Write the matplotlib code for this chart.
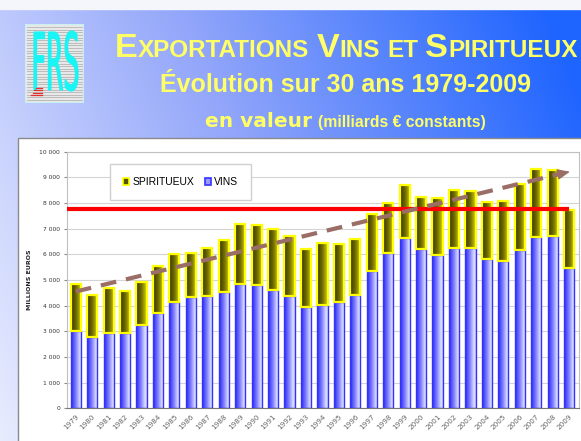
import numpy as np
import matplotlib
matplotlib.use("Agg")
import matplotlib.pyplot as plt
from matplotlib.patches import Rectangle, PathPatch, Patch
from matplotlib.textpath import TextPath
from matplotlib.font_manager import FontProperties
from matplotlib.colors import LinearSegmentedColormap
import matplotlib.transforms as mtransforms

# data (millions of euros, constant)
years = list(range(1979, 2010))
vins = [3030, 2770, 2920, 2935, 3245, 3725, 4155, 4325, 4375, 4545, 4845, 4795,
        4600, 4380, 3935, 4040, 4155, 4420, 5350, 6040, 6650, 6210, 5975, 6235,
        6260, 5820, 5755, 6170, 6690, 6730, 5480]
totals = [4830, 4415, 4675, 4570, 4935, 5560, 6000, 6065, 6260, 6560, 7180, 7145,
          6985, 6715, 6210, 6430, 6405, 6610, 7570, 7990, 8700, 8220, 8195, 8505,
          8480, 8040, 8065, 8750, 9335, 9300, 7730]
spiritueux = [t - v for t, v in zip(totals, vins)]
ref_level = 7760
trend_years = [1979, 2009]
trend_vals = [4550, 9220]

W, H = 581, 441
fig = plt.figure(figsize=(W / 100, H / 100), dpi=100)
renderer = fig.canvas.get_renderer()
px = mtransforms.IdentityTransform()

# background gradient (lavender bottom-left -> blue top-right)
bg = fig.add_axes([0, 0, 1, 1], zorder=-10)
gx, gy = np.meshgrid(np.linspace(0, 1, 300), np.linspace(0, 1, 200))
tt = np.clip(0.8 * gx + 0.25 * (1 - gy), 0, 1)
c0 = np.array([232, 236, 255]) / 255
c1 = np.array([145, 165, 250]) / 255
c2 = np.array([30, 100, 255]) / 255
img = np.where(tt[..., None] < 0.5, c0 + (c1 - c0) * (tt[..., None] / 0.5),
               c1 + (c2 - c1) * ((tt[..., None] - 0.5) / 0.5))
bg.imshow(img, extent=(0, 1, 1, 0), aspect="auto")
bg.set_xlim(0, 1)
bg.set_ylim(1, 0)
bg.axis("off")
bg.add_patch(Rectangle((0, 0), 1, 9 / H, color="#f4f6fc"))
bg.add_patch(Rectangle((18 / W, 138 / H), 1, 1, facecolor="white",
                       edgecolor="#8a8a8a", lw=1))

# logo
lg = fig.add_axes([25 / W, 1 - 103 / H, 59 / W, 79 / H])
lg.set_xlim(0, 59)
lg.set_ylim(0, 79)
lg.axis("off")
lg.add_patch(Rectangle((0, 0), 59, 79, facecolor="#e8e8e8", edgecolor="#c8f0f0", lw=1.5))
for yy in np.arange(3, 77, 2.6):
    lg.plot([2, 57], [yy, yy], color="#b4b4b4", lw=0.6)
tp = TextPath((0, 0), "FRS", size=1, prop=FontProperties(family="DejaVu Sans"))
ext = tp.get_extents()
tr = mtransforms.Affine2D().translate(-ext.x0, -ext.y0).scale(44 / ext.width, 60 / ext.height).translate(9, 12)
lg.add_patch(PathPatch(tr.transform_path(tp), facecolor="#19f5f5", edgecolor="#19f5f5",
                       lw=0.9, zorder=3))
for i in range(4):
    lg.plot([6 + i * 1.5, 17], [8 + i * 2.5, 8 + i * 2.5], color="#e03030", lw=0.9, zorder=4)

# title, small caps built from pieces
yel = "#ffff66"
big, small = 24.6, 17.5
pieces = [("E", big), ("XPORTATIONS", small), (" ", small), ("V", big), ("INS", small),
          (" ", small), ("ET", small), (" ", small), ("S", big), ("PIRITUEUX", small)]
x = 115
for txt, fs in pieces:
    if txt == " ":
        x += fs * 0.42
        continue
    t = fig.text(x, H - 57, txt, transform=px, fontsize=fs, fontweight="bold",
                 family="Liberation Sans", color=yel, va="baseline", ha="left")
    x += t.get_window_extent(renderer).width

fig.text(346, H - 92, "Évolution sur 30 ans 1979-2009", transform=px, fontsize=18,
         fontweight="bold", family="Liberation Sans", color=yel, va="baseline", ha="center")
t1 = fig.text(205, H - 127, "en valeur", transform=px, fontsize=14.5, fontweight="heavy",
              family="DejaVu Sans", color=yel, va="baseline", ha="left")
x = 205 + t1.get_window_extent(renderer).width + 6
fig.text(x, H - 127, "(milliards € constants)", transform=px, fontsize=11.3, fontweight="bold",
         family="Liberation Sans", color=yel, va="baseline", ha="left")

# main chart
ax = fig.add_axes([67 / W, (H - 408.3) / H, (579 - 67) / W, (408.3 - 151.7) / H])
xs = np.arange(len(years))
bw = 0.62

blue_cmap = LinearSegmentedColormap.from_list(
    "b", [(0, (0.15, 0.15, 0.94)), (0.45, (0.5, 0.5, 1.0)), (0.85, (0.88, 0.88, 1.0)), (1, (0.78, 0.78, 1.0))])
yel_cmap = LinearSegmentedColormap.from_list(
    "y", [(0, (0.2, 0.2, 0.0)), (0.5, (0.45, 0.43, 0.0)), (1, (0.85, 0.85, 0.0))])
grad = np.linspace(0, 1, 64)[None, :]

bars_v = ax.bar(xs, vins, bw, facecolor="none", edgecolor="#3333ff", lw=1, zorder=3)
bars_s = ax.bar(xs, spiritueux, bw, bottom=vins, facecolor="none", edgecolor="#ffff00", lw=1.6, zorder=3)
for bars, cmap in ((bars_v, blue_cmap), (bars_s, yel_cmap)):
    for r in bars:
        x0, y0 = r.get_x(), r.get_y()
        im = ax.imshow(grad, cmap=cmap, aspect="auto", interpolation="bilinear",
                       extent=(x0, x0 + r.get_width(), y0, y0 + r.get_height()), zorder=2)
        im.set_clip_path(r)

ax.set_xlim(-0.53, len(years) - 0.4)
ax.set_ylim(0, 10000)

ax.hlines(ref_level, -0.53, xs[years.index(trend_years[1])], color="#ff0000", lw=3, zorder=5)
tx = [years.index(y) for y in trend_years]
end_back = tx[1] - 0.6
yb = trend_vals[0] + (trend_vals[1] - trend_vals[0]) * (end_back - tx[0]) / (tx[1] - tx[0])
ax.plot([tx[0], end_back], [trend_vals[0], yb], color="#9a6e66", lw=3,
        ls=(0, (3.8, 2.4)), solid_capstyle="butt", zorder=6)
ax.annotate("", xy=(tx[1] + 0.05, trend_vals[1]), xytext=(end_back - 0.2, yb - 25),
            arrowprops=dict(arrowstyle="-|>,head_length=0.75,head_width=0.32",
                            color="#9a6e66", lw=1, shrinkA=0, shrinkB=0), zorder=6)

ax.set_yticks(range(0, 10001, 1000))
ax.set_yticklabels([f"{v:,}".replace(",", " ") for v in range(0, 10001, 1000)],
                   fontsize=4.3, color="#333333")
ax.set_xticks(xs)
ax.set_xticklabels([str(y) for y in years], rotation=45, ha="right",
                   rotation_mode="anchor", fontsize=5.2, color="#666666")
ax.tick_params(axis="x", length=0, pad=4)
ax.tick_params(axis="y", length=2, color="#888888", pad=3)
ax.grid(axis="y", color="#d4d4d4", lw=0.8, zorder=0)
ax.set_axisbelow(True)
for s in ("top", "right", "left"):
    ax.spines[s].set_color("#c0c0c0")
ax.spines["bottom"].set_color("#777777")

ax.set_ylabel("MILLIONS EUROS", fontsize=4.5, fontweight="bold", color="#222222")
ax.yaxis.set_label_coords(-0.068, 0.5)

handles = [Patch(facecolor="#555500", edgecolor="#ffff00", lw=1.2, label="SPIRITUEUX"),
           Patch(facecolor="#9999ff", edgecolor="#3333ff", lw=1.2, label="VINS")]
leg = ax.legend(handles=handles, ncol=2, loc="upper left", bbox_to_anchor=(0.084, 0.952),
                fontsize=7.5, frameon=True, fancybox=False, framealpha=1, borderpad=1.25,
                handlelength=0.6, handleheight=0.6, handletextpad=0.3, columnspacing=1.0,
                borderaxespad=0, prop={"family": "Liberation Sans", "size": 7.5})
leg.get_frame().set_edgecolor("#d0d0d0")
leg.get_frame().set_linewidth(1)
leg.set_zorder(4)

fig.savefig("out.png", dpi=100)
